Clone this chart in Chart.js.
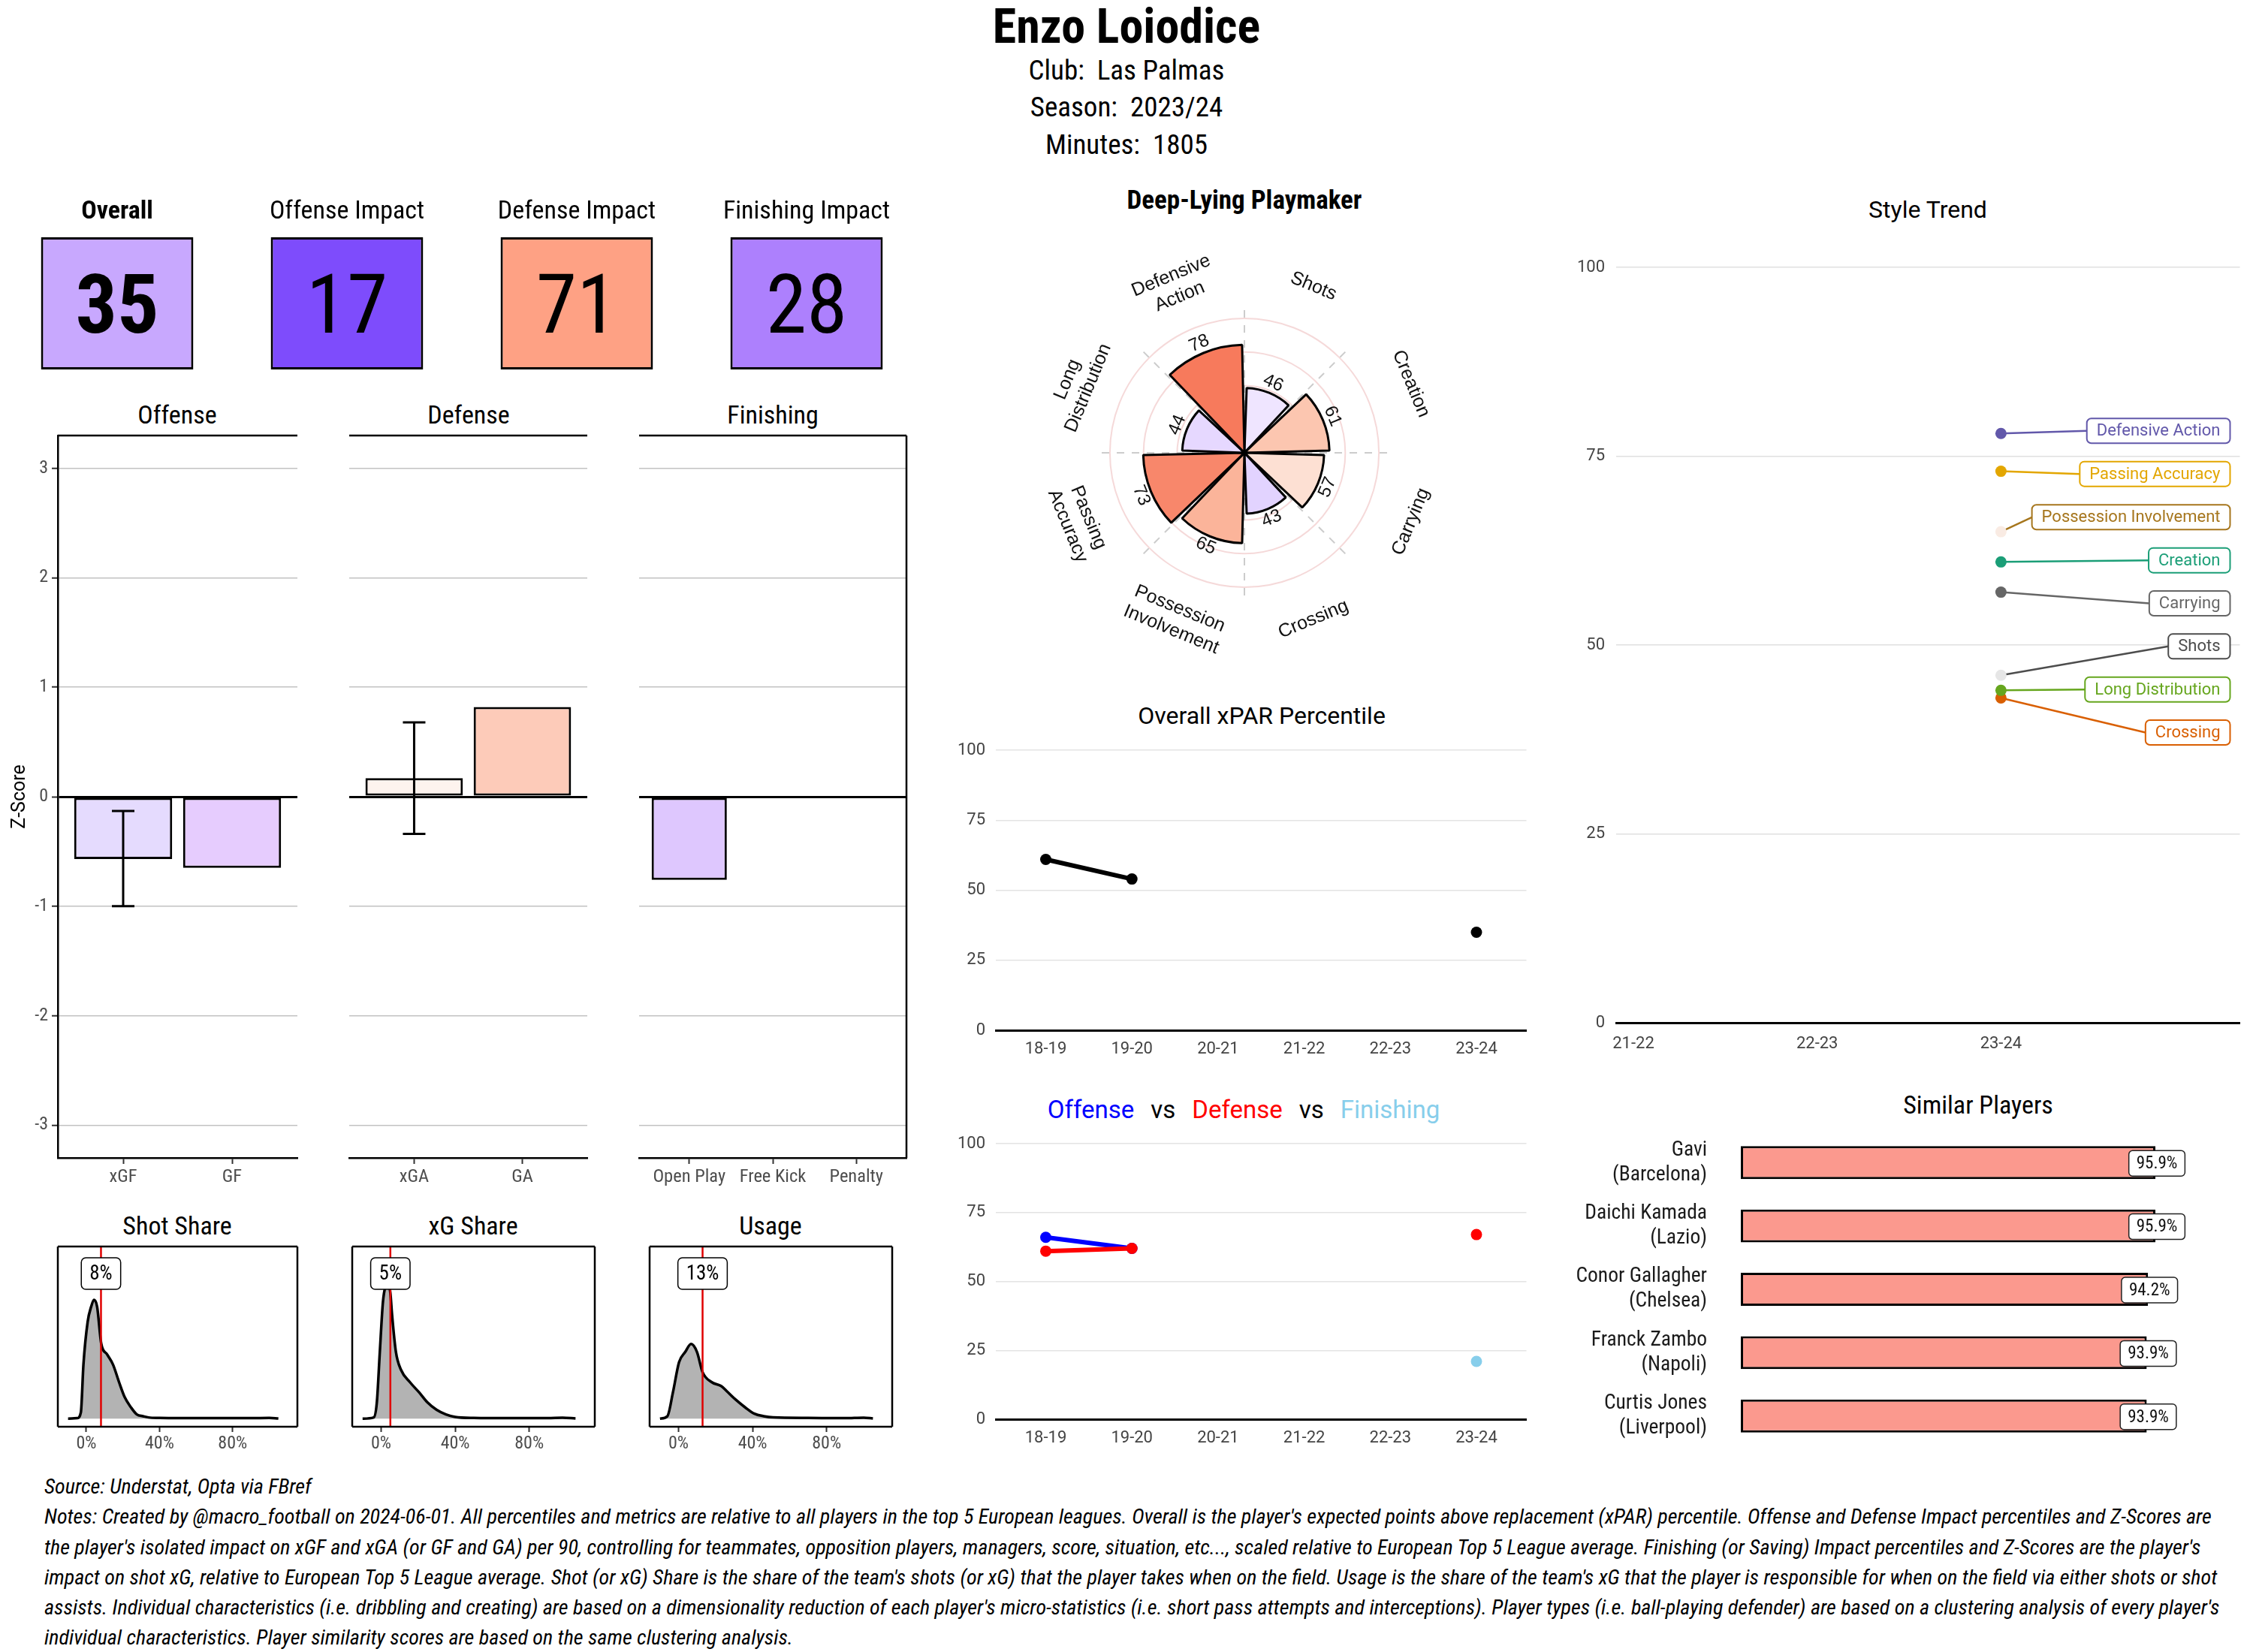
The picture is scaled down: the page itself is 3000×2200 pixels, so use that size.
<!DOCTYPE html>
<html>
<head>
<meta charset="utf-8">
<script src="https://cdn.jsdelivr.net/npm/chart.js@4.4.1/dist/chart.umd.min.js"></script>
<style>
html, body { margin: 0; padding: 0; background: #fff; }
#page { position: relative; width: 3000px; height: 2200px; overflow: hidden; color: #000;
  font-family: "Roboto Condensed", "Liberation Sans Narrow", "DejaVu Sans Condensed", sans-serif; }
.t { position: absolute; white-space: pre; transform: translate(-50%, -50%); line-height: 1; }
.sans { font-family: Roboto, "Liberation Sans", Arial, sans-serif; }
#notes { position: absolute; left: 59px; top: 1960px; font-style: italic; font-size: 26px; line-height: 40.3px; white-space: nowrap; color: #000; }
#notes div { height: 40.3px; }
.vs { margin: 0 22px; }
</style>
</head>
<body>
<div id="page">
  <div class="t" style="left:1500px;top:36px;font-size:64px;font-weight:bold">Enzo Loiodice</div>
  <div class="t" style="left:1500px;top:93px;font-size:37px">Club:  Las Palmas</div>
  <div class="t" style="left:1500px;top:142px;font-size:37px">Season:  2023/24</div>
  <div class="t" style="left:1500px;top:192px;font-size:37px">Minutes:  1805</div>

  <div class="t" style="left:1657px;top:266px;font-size:35px;font-weight:bold">Deep-Lying Playmaker</div>
  <div class="t sans" style="left:2567px;top:279px;font-size:32px">Style Trend</div>

  <div class="t" style="left:236px;top:552px;font-size:34px">Offense</div>
  <div class="t" style="left:624px;top:552px;font-size:34px">Defense</div>
  <div class="t" style="left:1029px;top:552px;font-size:34px">Finishing</div>

  <div class="t" style="left:236px;top:1632px;font-size:34px">Shot Share</div>
  <div class="t" style="left:630px;top:1632px;font-size:34px">xG Share</div>
  <div class="t" style="left:1026px;top:1632px;font-size:34px">Usage</div>

  <div class="t sans" style="left:1680px;top:953px;font-size:32px">Overall xPAR Percentile</div>
  <div class="t sans" style="left:1656px;top:1477px;font-size:33px"><span style="color:#0000ff">Offense</span><span class="vs">vs</span><span style="color:#ff0000">Defense</span><span class="vs">vs</span><span style="color:#87ceeb">Finishing</span></div>

  <div class="t" style="left:2634px;top:1471px;font-size:34px">Similar Players</div>

  <div id="notes">
    <div><span>Source: Understat, Opta via FBref</span></div>
    <div><span>Notes: Created by @macro_football on 2024-06-01. All percentiles and metrics are relative to all players in the top 5 European leagues. Overall is the player's expected points above replacement (xPAR) percentile. Offense and Defense Impact percentiles and Z-Scores are</span></div>
    <div><span>the player's isolated impact on xGF and xGA (or GF and GA) per 90, controlling for teammates, opposition players, managers, score, situation, etc..., scaled relative to European Top 5 League average. Finishing (or Saving) Impact percentiles and Z-Scores are the player's</span></div>
    <div><span>impact on shot xG, relative to European Top 5 League average. Shot (or xG) Share is the share of the team's shots (or xG) that the player takes when on the field. Usage is the share of the team's xG that the player is responsible for when on the field via either shots or shot</span></div>
    <div><span>assists. Individual characteristics (i.e. dribbling and creating) are based on a dimensionality reduction of each player's micro-statistics (i.e. short pass attempts and interceptions). Player types (i.e. ball-playing defender) are based on a clustering analysis of every player's</span></div>
    <div><span>individual characteristics. Player similarity scores are based on the same clustering analysis.</span></div>
  </div>
</div>

<script>
// ---------- data ----------
var tileLabels = ['Overall', 'Offense Impact', 'Defense Impact', 'Finishing Impact'];
var tileValues = [35, 17, 71, 28];

var offCats = ['xGF', 'GF'];
var offZ = [-0.57, -0.65];
var offErrLow = [-1.0, null];
var offErrHigh = [-0.13, null];

var defCats = ['xGA', 'GA'];
var defZ = [0.17, 0.82];
var defErrLow = [-0.34, null];
var defErrHigh = [0.68, null];

var finCats = ['Open Play', 'Free Kick', 'Penalty'];
var finZ = [-0.76, 0, 0];

var zTicks = [-3, -2, -1, 0, 1, 2, 3];

// density curves (x in %, y = relative density)
var shotX = [-10, -5, -3, -1.6, 0.7, 2.6, 4.2, 5.9, 8.1, 11.4, 14.6, 17.9, 21, 24.4, 27.6, 31, 34, 40, 50, 60, 70, 80, 90, 100, 105];
var shotY = [0, 2, 25, 215, 385, 445, 473, 445, 300, 255, 215, 145, 85, 45, 17, 10, 5, 3, 2, 2, 2, 2, 2, 3, 1];
var xgX = [-10, -4, -2.3, -0.7, 1, 2.6, 3.5, 5, 5.9, 8, 10.7, 15.6, 20.5, 25, 30, 35, 40, 50, 70, 90, 98, 105];
var xgY = [0, 5, 65, 265, 465, 535, 550, 500, 415, 265, 195, 145, 105, 65, 35, 17, 7, 3, 2, 2, 4, 1];
var usageX = [-10, -6, -3, 0.3, 3.6, 6.8, 10, 13, 18, 23, 26, 31, 36, 41, 46, 51, 70, 90, 100, 105];
var usageY = [0, 10, 105, 225, 265, 297, 265, 185, 145, 130, 110, 75, 45, 20, 10, 5, 3, 2, 4, 1];
var shotShare = 8, xgShare = 5, usage = 13;
var densTicks = [0, 40, 80];

var styleCats = ['Shots', 'Creation', 'Carrying', 'Crossing', 'Possession\nInvolvement', 'Passing\nAccuracy', 'Long\nDistribution', 'Defensive\nAction'];
var styleValues = [46, 61, 57, 43, 65, 73, 44, 78];

var seasons = ['18-19', '19-20', '20-21', '21-22', '22-23', '23-24'];
var overallPct = [61, 54, null, null, null, 35];
var offensePct = [66, 62, null, null, null, null];
var defensePct = [61, 62, null, null, null, 67];
var finishingPct = [null, null, null, null, null, 21];
var pctTicks = [0, 25, 50, 75, 100];

var trendSeasons = ['21-22', '22-23', '23-24'];
var trendNames = ['Defensive Action', 'Passing Accuracy', 'Possession Involvement', 'Creation', 'Carrying', 'Shots', 'Long Distribution', 'Crossing'];
var trendLatest = [78, 73, 65, 61, 57, 46, 44, 43];

var simPlayers = [['Gavi', '(Barcelona)'], ['Daichi Kamada', '(Lazio)'], ['Conor Gallagher', '(Chelsea)'], ['Franck Zambo', '(Napoli)'], ['Curtis Jones', '(Liverpool)']];
var simScores = [95.9, 95.9, 94.2, 93.9, 93.9];

// ---------- styles ----------
var COND = '"Roboto Condensed", "Liberation Sans Narrow", "DejaVu Sans Condensed", sans-serif';
var SANS = 'Roboto, "Liberation Sans", Arial, sans-serif';
var ARIAL = '"Liberation Sans", Arial, sans-serif';

var tileColors = ['#c8a8fe', '#7e4cfc', '#fea184', '#ad80fd'];
var offColors = ['#e5dbfe', '#e6ccfe'];
var defColors = ['#fdf3ee', '#fdcbb9'];
var finColors = ['#dec7fe', '#dec7fe', '#dec7fe'];
var wedgeColors = ['#efe5ff', '#fcc6b0', '#fde0d3', '#e2d3ff', '#fbb49a', '#f8876b', '#e6d8ff', '#f77a5c'];
var trendColors = ['#6258aa', '#e3a600', '#a6761d', '#1b9e77', '#666666', '#4d4d4d', '#66a61e', '#d95f02'];
var trendPointColors = ['#6258aa', '#e3a600', '#f9ebe3', '#1b9e77', '#666666', '#e6e6e6', '#66a61e', '#d95f02'];

Chart.defaults.animation = false;
Chart.defaults.responsive = true;
Chart.defaults.maintainAspectRatio = false;
Chart.defaults.plugins.legend.display = false;
Chart.defaults.plugins.tooltip.enabled = false;
Chart.defaults.font.family = COND;
Chart.defaults.color = '#4d4d4d';

function makeCanvas(left, top, w, h) {
  var d = document.createElement('div');
  d.style.cssText = 'position:absolute;left:' + left + 'px;top:' + top + 'px;width:' + w + 'px;height:' + h + 'px;';
  var c = document.createElement('canvas');
  d.appendChild(c);
  document.getElementById('page').appendChild(d);
  return c;
}

// fix an axis box size and stop its labels from pushing the plot area around
function fixSize(w, h) {
  return function (s) {
    if (w !== null) s.width = w;
    if (h !== null) s.height = h;
    s.paddingTop = 0; s.paddingBottom = 0; s.paddingLeft = 0; s.paddingRight = 0;
  };
}

function frame(sides) {
  return {
    id: 'frame',
    afterDraw: function (chart) {
      var ctx = chart.ctx, a = chart.chartArea;
      ctx.save();
      ctx.strokeStyle = '#000';
      ctx.lineWidth = 2.5;
      ctx.beginPath();
      if (sides.top) { ctx.moveTo(a.left, a.top); ctx.lineTo(a.right, a.top); }
      if (sides.bottom) { ctx.moveTo(a.left, a.bottom); ctx.lineTo(a.right, a.bottom); }
      if (sides.left) { ctx.moveTo(a.left, a.top); ctx.lineTo(a.left, a.bottom); }
      if (sides.right) { ctx.moveTo(a.right, a.top); ctx.lineTo(a.right, a.bottom); }
      ctx.stroke();
      ctx.restore();
    }
  };
}

// ---------- tiles ----------
var tileNumbers = {
  id: 'tileNumbers',
  afterDatasetsDraw: function (chart) {
    var ctx = chart.ctx;
    chart.getDatasetMeta(0).data.forEach(function (bar, i) {
      var cy = (bar.y + bar.base) / 2;
      ctx.save();
      ctx.font = (i === 0 ? 'bold ' : '') + '110px ' + COND;
      ctx.fillStyle = '#000';
      ctx.textAlign = 'center';
      ctx.textBaseline = 'alphabetic';
      ctx.fillText(String(tileValues[i]), bar.x, cy + 39);
      ctx.restore();
    });
  }
};

new Chart(makeCanvas(3, 250, 1224, 242), {
  type: 'bar',
  data: {
    labels: tileLabels,
    datasets: [{
      data: tileValues.map(function () { return [0, 1]; }),
      backgroundColor: tileColors, borderColor: '#000', borderWidth: 3, borderSkipped: false,
      barPercentage: 0.663, categoryPercentage: 1
    }]
  },
  options: {
    scales: {
      x: {
        position: 'top',
        grid: { display: false, drawTicks: false }, border: { display: false },
        ticks: {
          color: '#000', padding: 13, maxRotation: 0, autoSkip: false,
          font: function (c) { return { family: COND, size: 34, weight: c.index === 0 ? 'bold' : 'normal' }; }
        },
        afterFit: fixSize(null, 66)
      },
      y: { display: false, min: 0, max: 1 }
    }
  },
  plugins: [tileNumbers]
});

// ---------- z-score panels ----------
function errBars(low, high) {
  return {
    id: 'errBars',
    afterDatasetsDraw: function (chart) {
      var ctx = chart.ctx, x = chart.scales.x, y = chart.scales.y;
      ctx.save();
      ctx.strokeStyle = '#000';
      ctx.lineWidth = 3;
      low.forEach(function (lo, i) {
        if (lo === null) return;
        var px = x.getPixelForValue(i), y1 = y.getPixelForValue(lo), y2 = y.getPixelForValue(high[i]);
        ctx.beginPath();
        ctx.moveTo(px, y1); ctx.lineTo(px, y2);
        ctx.moveTo(px - 15, y1); ctx.lineTo(px + 15, y1);
        ctx.moveTo(px - 15, y2); ctx.lineTo(px + 15, y2);
        ctx.stroke();
      });
      ctx.restore();
    }
  };
}

function zPanel(left, width, cats, vals, colors, low, high, first, last) {
  var n = cats.length;
  return new Chart(makeCanvas(left, 570, width, 1017), {
    type: 'bar',
    data: {
      datasets: [{
        data: vals.map(function (v, i) { return { x: i, y: v }; }),
        backgroundColor: colors, borderColor: '#000', borderWidth: 3, borderSkipped: false,
        barPercentage: 0.9, categoryPercentage: 1
      }]
    },
    options: {
      layout: { padding: { top: 10, left: first ? 0 : 2, right: 2 } },
      scales: {
        x: {
          type: 'linear', offset: false, min: -0.6, max: n - 0.4,
          afterBuildTicks: function (s) { s.ticks = cats.map(function (c, i) { return { value: i }; }); },
          ticks: { callback: function (v) { return cats[v]; }, font: { size: 24.5 }, color: '#4d4d4d', padding: 3, maxRotation: 0, autoSkip: false },
          grid: { offset: false, drawOnChartArea: false, tickLength: 8, tickColor: '#333', tickWidth: 2 },
          border: { color: '#000', width: 2.5 },
          afterFit: fixSize(null, 45)
        },
        y: {
          min: -3.3, max: 3.3,
          afterBuildTicks: function (s) { s.ticks = zTicks.map(function (v) { return { value: v }; }); },
          ticks: { display: first, font: { size: 24 }, color: '#4d4d4d', padding: 5 },
          grid: {
            color: function (c) { return c.tick && c.tick.value === 0 ? '#000' : '#c2c2c2'; },
            lineWidth: function (c) { return c.tick && c.tick.value === 0 ? 3 : 1.5; },
            drawTicks: first, tickLength: 8, tickColor: '#333', tickWidth: 2
          },
          border: { display: first, color: '#000', width: 2.5 },
          title: { display: first, text: 'Z-Score', font: { family: SANS, size: 25 }, color: '#000', padding: { top: 12, bottom: 0 } },
          afterFit: fixSize(first ? 77 : 0, null)
        }
      }
    },
    plugins: [errBars(low, high), frame({ top: true, right: last })]
  });
}

zPanel(0, 398, offCats, offZ, offColors, offErrLow, offErrHigh, true, false);
zPanel(463, 321, defCats, defZ, defColors, defErrLow, defErrHigh, false, false);
zPanel(849, 360, finCats, finZ, finColors, [null, null, null], [null, null, null], false, true);

// ---------- density panels ----------
function marker(value) {
  return {
    id: 'marker',
    afterDatasetsDraw: function (chart) {
      var ctx = chart.ctx, a = chart.chartArea, px = chart.scales.x.getPixelForValue(value);
      var text = value + '%';
      ctx.save();
      ctx.strokeStyle = '#e00000';
      ctx.lineWidth = 2.5;
      ctx.beginPath(); ctx.moveTo(px, a.top); ctx.lineTo(px, a.bottom); ctx.stroke();
      ctx.font = '27px ' + COND;
      var w = ctx.measureText(text).width + 22, h = 42, cy = a.top + 36;
      ctx.beginPath();
      ctx.roundRect(px - w / 2, cy - h / 2, w, h, 6);
      ctx.fillStyle = '#fff'; ctx.fill();
      ctx.strokeStyle = '#000'; ctx.lineWidth = 1.5; ctx.stroke();
      ctx.fillStyle = '#000'; ctx.textAlign = 'center'; ctx.textBaseline = 'middle';
      ctx.fillText(text, px, cy + 1);
      ctx.restore();
    }
  };
}

function densityPanel(left, width, xs, ys, value) {
  return new Chart(makeCanvas(left - 2, 1650, width + 4, 290), {
    type: 'line',
    data: {
      datasets: [{
        data: xs.map(function (x, i) { return { x: x, y: ys[i] }; }),
        borderColor: '#000', borderWidth: 3.5, backgroundColor: '#b3b3b3', fill: 'origin',
        pointRadius: 0, cubicInterpolationMode: 'monotone'
      }]
    },
    options: {
      layout: { padding: { top: 10, left: 2, right: 2 } },
      scales: {
        x: {
          type: 'linear', min: -15.6, max: 115.4,
          afterBuildTicks: function (s) { s.ticks = densTicks.map(function (v) { return { value: v }; }); },
          ticks: { callback: function (v) { return v + '%'; }, font: { size: 24 }, color: '#4d4d4d', padding: 2, maxRotation: 0 },
          grid: { drawOnChartArea: false, tickLength: 7, tickColor: '#333', tickWidth: 2 },
          border: { display: false },
          afterFit: fixSize(null, 40)
        },
        y: { display: false, min: -32, max: 685 }
      }
    },
    plugins: [marker(value), frame({ top: true, bottom: true, left: true, right: true })]
  });
}

densityPanel(77, 319, shotX, shotY, shotShare);
densityPanel(469, 323, xgX, xgY, xgShare);
densityPanel(865, 323, usageX, usageY, usage);

// ---------- style polar chart ----------
function rotatedText(ctx, lines, sc, ang, val, font, lineH) {
  var r = sc.getDistanceFromCenterForValue(val);
  var x = sc.xCenter + r * Math.sin(ang), y = sc.yCenter - r * Math.cos(ang);
  var rot = ang;
  if (rot > Math.PI / 2 && rot < 3 * Math.PI / 2) rot -= Math.PI;
  ctx.save();
  ctx.translate(x, y);
  ctx.rotate(rot);
  ctx.font = font;
  ctx.fillStyle = '#111';
  ctx.textAlign = 'center';
  ctx.textBaseline = 'middle';
  lines.forEach(function (ln, k) {
    ctx.fillText(ln, 0, (k - (lines.length - 1) / 2) * lineH);
  });
  ctx.restore();
}

var polarText = {
  id: 'polarText',
  afterDraw: function (chart) {
    var ctx = chart.ctx, sc = chart.scales.r, step = 2 * Math.PI / styleCats.length;
    styleCats.forEach(function (name, i) {
      var ang = (i + 0.5) * step;
      rotatedText(ctx, [String(styleValues[i])], sc, ang, styleValues[i] + 10, '24px ' + ARIAL, 28);
      rotatedText(ctx, name.split('\n'), sc, ang, 134, '25px ' + ARIAL, 30);
    });
  }
};

new Chart(makeCanvas(1337, 283, 640, 640), {
  type: 'polarArea',
  data: {
    labels: styleCats,
    datasets: [{ data: styleValues, backgroundColor: wedgeColors, borderColor: '#000', borderWidth: 3, spacing: 8 }]
  },
  options: {
    layout: { padding: 123 },
    scales: {
      r: {
        min: 0, max: 110, startAngle: 0,
        ticks: { display: false, stepSize: 25 },
        grid: {
          color: function (c) { return c.tick && c.tick.value > 0 && c.tick.value <= 100 ? 'rgba(232,170,170,0.45)' : 'rgba(0,0,0,0)'; },
          lineWidth: 2
        },
        angleLines: { display: true, color: '#cccccc', lineWidth: 2, borderDash: [10, 10] },
        pointLabels: { display: false }
      }
    }
  },
  plugins: [polarText]
});

// ---------- percentile trend charts ----------
function pctChart(top, height, padTop, series) {
  return new Chart(makeCanvas(1236, top, 804, height), {
    type: 'line',
    data: {
      datasets: series.map(function (s) {
        return {
          data: seasons.map(function (season, i) { return { x: i, y: s.values[i] }; }),
          borderColor: s.color, backgroundColor: s.color, borderWidth: 6,
          pointRadius: 7.5, pointBorderWidth: 0, spanGaps: false
        };
      })
    },
    options: {
      layout: { padding: { top: padTop, right: 6 } },
      scales: {
        x: {
          type: 'linear', min: -0.58, max: 5.58,
          afterBuildTicks: function (s) { s.ticks = seasons.map(function (c, i) { return { value: i }; }); },
          ticks: { callback: function (v) { return seasons[v]; }, font: { family: SANS, size: 22 }, color: '#444', padding: 12, maxRotation: 0, autoSkip: false },
          grid: { display: false, drawTicks: false },
          border: { color: '#000', width: 3 },
          afterFit: fixSize(null, 45)
        },
        y: {
          min: 0, max: 100,
          afterBuildTicks: function (s) { s.ticks = pctTicks.map(function (v) { return { value: v }; }); },
          ticks: { font: { family: SANS, size: 22 }, color: '#444', padding: 14 },
          grid: { color: function (c) { return c.tick && c.tick.value === 0 ? 'rgba(0,0,0,0)' : '#e3e3e3'; }, lineWidth: 1.5, drawTicks: false },
          border: { display: false },
          afterFit: fixSize(90, null)
        }
      }
    }
  });
}

pctChart(920, 497, 79, [{ values: overallPct, color: '#000000' }]);
pctChart(1440, 495, 83, [
  { values: defensePct, color: '#ff0000' },
  { values: offensePct, color: '#0000ff' },
  { values: finishingPct, color: '#87ceeb' }
]);

// ---------- style trend ----------
function repelLabels() {
  var gap = 5.7;
  var order = trendLatest.map(function (v, i) { return i; }).sort(function (a, b) { return trendLatest[b] - trendLatest[a]; });
  var groups = order.map(function (i) { return [i]; });
  var centre = function (g) { return g.reduce(function (s, i) { return s + trendLatest[i]; }, 0) / g.length; };
  var changed = true;
  while (changed) {
    changed = false;
    for (var k = 0; k < groups.length - 1; k++) {
      var a = groups[k], b = groups[k + 1];
      var aLow = centre(a) - (a.length - 1) * gap / 2;
      var bHigh = centre(b) + (b.length - 1) * gap / 2;
      if (aLow - bHigh < gap) { groups.splice(k, 2, a.concat(b)); changed = true; break; }
    }
  }
  var pos = [];
  groups.forEach(function (g) {
    var c = centre(g);
    g.forEach(function (i, j) { pos[i] = c + ((g.length - 1) / 2 - j) * gap; });
  });
  return pos;
}

function trendBoxes(chart) {
  var ctx = chart.ctx, x = chart.scales.x, y = chart.scales.y, a = chart.chartArea;
  var pos = repelLabels();
  ctx.font = '22px ' + SANS;
  return trendNames.map(function (name, i) {
    var w = ctx.measureText(name).width + 26, h = 33;
    var right = a.right - 13;
    return {
      name: name, w: w, h: h, left: right - w, cy: y.getPixelForValue(pos[i]),
      px: x.getPixelForValue(trendSeasons.indexOf('23-24')), py: y.getPixelForValue(trendLatest[i])
    };
  });
}

var trendLabels = {
  id: 'trendLabels',
  beforeDatasetsDraw: function (chart) {
    var ctx = chart.ctx;
    ctx.save();
    ctx.lineWidth = 2.5;
    trendBoxes(chart).forEach(function (b, i) {
      ctx.strokeStyle = trendColors[i];
      ctx.beginPath(); ctx.moveTo(b.px, b.py); ctx.lineTo(b.left, b.cy); ctx.stroke();
    });
    ctx.restore();
  },
  afterDatasetsDraw: function (chart) {
    var ctx = chart.ctx;
    ctx.save();
    trendBoxes(chart).forEach(function (b, i) {
      ctx.beginPath();
      ctx.roundRect(b.left, b.cy - b.h / 2, b.w, b.h, 6);
      ctx.fillStyle = '#fff'; ctx.fill();
      ctx.strokeStyle = trendColors[i]; ctx.lineWidth = 2; ctx.stroke();
      ctx.font = '22px ' + SANS;
      ctx.fillStyle = trendColors[i]; ctx.textAlign = 'center'; ctx.textBaseline = 'middle';
      ctx.fillText(b.name, b.left + b.w / 2, b.cy + 1);
    });
    ctx.restore();
  }
};

new Chart(makeCanvas(2060, 346, 930, 1066), {
  type: 'scatter',
  data: {
    datasets: trendNames.map(function (name, i) {
      return {
        label: name,
        data: [{ x: trendSeasons.indexOf('23-24'), y: trendLatest[i] }],
        pointRadius: 7.5, pointBackgroundColor: trendPointColors[i], pointBorderWidth: 0
      };
    })
  },
  options: {
    layout: { padding: { top: 10, right: 6 } },
    scales: {
      x: {
        type: 'linear', min: -0.094, max: 3.3,
        afterBuildTicks: function (s) { s.ticks = trendSeasons.map(function (c, i) { return { value: i }; }); },
        ticks: { callback: function (v) { return trendSeasons[v]; }, font: { family: SANS, size: 22 }, color: '#444', padding: 15, maxRotation: 0 },
        grid: { display: false, drawTicks: false },
        border: { color: '#000', width: 3 },
        afterFit: fixSize(null, 50)
      },
      y: {
        min: 0, max: 100,
        afterBuildTicks: function (s) { s.ticks = pctTicks.map(function (v) { return { value: v }; }); },
        ticks: { font: { family: SANS, size: 22 }, color: '#444', padding: 15 },
        grid: { color: function (c) { return c.tick && c.tick.value === 0 ? 'rgba(0,0,0,0)' : '#e0e0e0'; }, lineWidth: 1.5, drawTicks: false },
        border: { display: false },
        afterFit: fixSize(92, null)
      }
    }
  },
  plugins: [trendLabels]
});

// ---------- similar players ----------
var simLabels = {
  id: 'simLabels',
  afterDatasetsDraw: function (chart) {
    var ctx = chart.ctx;
    ctx.save();
    ctx.font = '23px ' + COND;
    chart.getDatasetMeta(0).data.forEach(function (bar, i) {
      var text = simScores[i].toFixed(1) + '%';
      var w = ctx.measureText(text).width + 20, h = 34;
      ctx.beginPath();
      ctx.roundRect(bar.x - w / 2 + 2, bar.y - h / 2 + 1, w, h, 5);
      ctx.fillStyle = '#fff'; ctx.fill();
      ctx.strokeStyle = '#222'; ctx.lineWidth = 1.5; ctx.stroke();
      ctx.fillStyle = '#111'; ctx.textAlign = 'center'; ctx.textBaseline = 'middle';
      ctx.fillText(text, bar.x + 2, bar.y + 2);
    });
    ctx.restore();
  }
};

new Chart(makeCanvas(2060, 1496, 930, 442), {
  type: 'bar',
  data: {
    labels: simPlayers,
    datasets: [{
      data: simScores, backgroundColor: '#fb998e', borderColor: '#000', borderWidth: 3, borderSkipped: false,
      barPercentage: 0.52, categoryPercentage: 1
    }]
  },
  options: {
    indexAxis: 'y',
    layout: { padding: { top: 10, bottom: 10, right: 6 } },
    scales: {
      x: { display: false, min: 0, max: 115.7 },
      y: {
        grid: { display: false, drawTicks: false }, border: { display: false },
        ticks: { font: { size: 27.5, lineHeight: 1.2 }, color: '#1a1a1a', padding: 45, autoSkip: false },
        afterFit: fixSize(258, null)
      }
    }
  },
  plugins: [simLabels]
});

// ---------- fit notes to the reference width ----------
(function () {
  var notes = document.getElementById('notes');
  var spans = notes.querySelectorAll('span');
  var maxW = 0;
  spans.forEach(function (s) { maxW = Math.max(maxW, s.getBoundingClientRect().width); });
  if (maxW > 0) notes.style.fontSize = (26 * 2897 / maxW).toFixed(2) + 'px';
})();
</script>
</body>
</html>
